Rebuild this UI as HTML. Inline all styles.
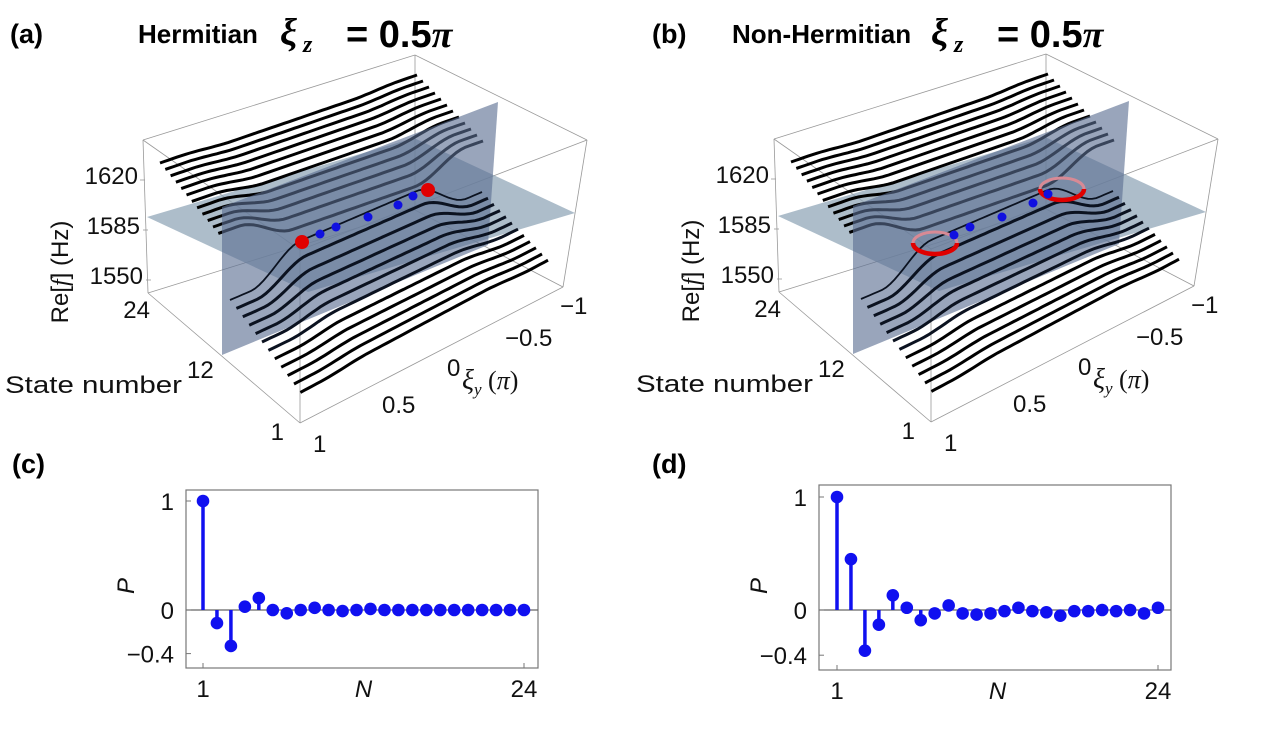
<!DOCTYPE html>
<html><head><meta charset="utf-8"><style>
html,body{margin:0;padding:0;background:#fff;}
svg{display:block;}
text{font-family:"Liberation Sans",sans-serif;}
.t{font-size:24px;fill:#111;}
.b{font-weight:bold;}
.s{font-family:"Liberation Serif",serif;font-style:italic;}
</style></head><body>
<svg id="svg" width="1269" height="730" viewBox="0 0 1269 730" xmlns="http://www.w3.org/2000/svg">
<text x="10" y="43" class="b" font-size="27">(a)</text>
<text x="138" y="43" class="b" font-size="26">Hermitian</text>
<text x="280" y="45" class="s b" font-size="38">ξ</text>
<text x="303" y="52" class="s b" font-size="24">z</text>
<text x="346" y="47" class="b" font-size="38">= 0.5<tspan font-family="Liberation Serif" font-style="italic" font-size="38">π</tspan></text>

<text x="652" y="43" class="b" font-size="27">(b)</text>
<text x="732" y="43" class="b" font-size="26">Non-Hermitian</text>
<text x="931" y="45" class="s b" font-size="38">ξ</text>
<text x="954" y="52" class="s b" font-size="24">z</text>
<text x="997" y="47" class="b" font-size="38">= 0.5<tspan font-family="Liberation Serif" font-style="italic" font-size="38">π</tspan></text>

<g id="pa"></g>
<g id="pb" transform="translate(631,-1)"></g>

<text x="12" y="473" class="b" font-size="27">(c)</text>
<text x="652" y="473" class="b" font-size="27">(d)</text>
<g id="pc"></g>
<g id="pd"></g>
</svg>
<script>
var NS="http://www.w3.org/2000/svg";
function el(p,tag,attrs,txt){var e=document.createElementNS(NS,tag);for(var k in attrs)e.setAttribute(k,attrs[k]);if(txt!==undefined)e.textContent=txt;p.appendChild(e);return e;}
function sm(x){x=Math.max(0,Math.min(1,x));return x*x*(3-2*x);}
function plateau(t){return sm((t-0.08)/0.2)*(1-sm((t-0.74)/0.2));}
function curve(S,E,A,N){var d="";for(var k=0;k<=N;k++){var t=k/N;var x=S[0]+(E[0]-S[0])*t;var y=S[1]+(E[1]-S[1])*t+A*plateau(t);d+=(k?"L":"M")+x.toFixed(1)+","+y.toFixed(1);}return d;}
function panel(g,nh){
  var box="#999";
  var L=[[143,140,415,55],[415,55,587,140],[143,140,148,293],[587,140,563,287],[148,293,300,423],[300,423,563,287],[415,55,415,210],[148,293,415,210],[415,210,563,287],[143,140,300,250],[300,250,587,140],[300,250,300,423]];
  L.forEach(function(l){el(g,"line",{x1:l[0],y1:l[1],x2:l[2],y2:l[3],stroke:box,"stroke-width":0.8});});
  [[137,180],[140,230],[143,280]].forEach(function(p){el(g,"line",{x1:p[0]+3,y1:p[1],x2:p[0]+8,y2:p[1],stroke:box,"stroke-width":0.8});});
  el(g,"polygon",{points:"147,217 414,138 575,213 308,292",fill:"#8ea3b6","fill-opacity":0.72});
  for(var j=0;j<12;j++){
    var S=[160+5.3*j,163+6.4*j],E=[417+6*j,75+6*j];
    var A=20*Math.exp(-(11-j)/3.5)+2;
    el(g,"path",{d:curve(S,E,A,60),fill:"none",stroke:"#000","stroke-width":3});
  }
  el(g,"polygon",{points:"222,207 498,102 488,245 222,355",fill:"#5a6d92","fill-opacity":0.62});
  for(var i=11;i>=0;i--){
    var S2=[230+6.4*i,300+8.4*i],E2=[482+6*i,192+6.2*i];
    var A2=-(27*Math.exp(-i/3.5)+2);
    el(g,"path",{d:curve(S2,E2,A2,60),fill:"none",stroke:i<7?"#0b1220":"#000","stroke-width":i==0?1.8:3});
  }
  if(!nh){
    el(g,"circle",{cx:302,cy:242,r:7,fill:"#e00000"});
    el(g,"circle",{cx:428,cy:190,r:7,fill:"#e00000"});
    [[320,234],[336,227],[368,217],[398,205],[413,196]].forEach(function(p){el(g,"circle",{cx:p[0],cy:p[1],r:4.5,fill:"#1010e0"});});
  } else {
    [[304,244],[431,190]].forEach(function(c){
      el(g,"path",{d:"M"+(c[0]-22)+","+c[1]+" A22,11 0 0,1 "+(c[0]+22)+","+c[1],fill:"none",stroke:"#d88a95","stroke-width":3});
      el(g,"path",{d:"M"+(c[0]-22)+","+c[1]+" A22,11 0 0,0 "+(c[0]+22)+","+c[1],fill:"none",stroke:"#e00000","stroke-width":4.5});
    });
    [[323,236],[339,228],[371,218],[402,204],[417,195]].forEach(function(p){el(g,"circle",{cx:p[0],cy:p[1],r:4.5,fill:"#1010e0"});});
  }
  var T=[["1620",138,184,"end"],["1585",140,234,"end"],["1550",143,284,"end"],["24",150,318,"end"],["12",187,378,"start"],["1",284,440,"end"],["1",313,452,"start"],["0.5",382,413,"start"],["0",447,376,"start"],["−0.5",505,346,"start"],["−1",560,314,"start"]];
  T.forEach(function(t){el(g,"text",{x:t[1],y:t[2],"class":"t","text-anchor":t[3]},t[0]);});
  el(g,"text",{x:5,y:393,"class":"t",textLength:177,lengthAdjust:"spacingAndGlyphs"},"State number");
  var r=el(g,"text",{x:0,y:0,"class":"t",transform:"translate(68,272) rotate(-90)","text-anchor":"middle"});
  r.innerHTML='Re[<tspan font-family="Liberation Serif" font-style="italic">f</tspan>] (Hz)';
  var xi=el(g,"text",{x:462,y:389,"class":"t"});
  xi.innerHTML='<tspan font-family="Liberation Serif" font-style="italic" font-size="28">ξ</tspan><tspan font-family="Liberation Serif" font-style="italic" font-size="17" dy="6">y</tspan><tspan dy="-6" font-family="Liberation Serif" font-size="26"> (</tspan><tspan font-family="Liberation Serif" font-style="italic" font-size="26">π</tspan><tspan font-family="Liberation Serif" font-size="26">)</tspan>';
}
panel(document.getElementById("pa"),false);
panel(document.getElementById("pb"),true);

function stem(g,bx0,bx1,by0,by1,y1,y0,x1,x24,vals){
  el(g,"rect",{x:bx0,y:by0,width:bx1-bx0,height:by1-by0,fill:"none",stroke:"#777","stroke-width":1.2});
  el(g,"line",{x1:bx0,y1:y0,x2:bx1,y2:y0,stroke:"#666","stroke-width":1.2});
  var sc=y0-y1;
  [[y1],[y0],[y0+0.4*sc]].forEach(function(p){el(g,"line",{x1:bx0,y1:p[0],x2:bx0+5,y2:p[0],stroke:"#777","stroke-width":1});});
  el(g,"line",{x1:x1,y1:by1,x2:x1,y2:by1-5,stroke:"#777","stroke-width":1});
  el(g,"line",{x1:x24,y1:by1,x2:x24,y2:by1-5,stroke:"#777","stroke-width":1});
  var dx=(x24-x1)/23;
  vals.forEach(function(v,k){var x=x1+k*dx,y=y0-v*sc;
    el(g,"line",{x1:x,y1:y0,x2:x,y2:y,stroke:"#1010f0","stroke-width":3.5});
    el(g,"circle",{cx:x,cy:y,r:6.3,fill:"#1010f0"});});
  el(g,"text",{x:bx0-12,y:y1+9,"class":"t","text-anchor":"end","font-size":"25"},"1");
  el(g,"text",{x:bx0-12,y:y0+9,"class":"t","text-anchor":"end","font-size":"25"},"0");
  el(g,"text",{x:bx0-12,y:y0+0.4*sc+9,"class":"t","text-anchor":"end","font-size":"25"},"−0.4");
  el(g,"text",{x:x1,y:by1+29,"class":"t","text-anchor":"middle","font-size":"25"},"1");
  el(g,"text",{x:x24,y:by1+29,"class":"t","text-anchor":"middle","font-size":"25"},"24");
  el(g,"text",{x:(x1+x24)/2,y:by1+29,"class":"t","text-anchor":"middle","font-size":"25","font-style":"italic"},"N");
  el(g,"text",{x:0,y:0,"class":"t","font-size":"24","font-style":"italic",transform:"translate("+(bx0-52)+","+(y0-24)+") rotate(-90)","text-anchor":"middle"},"P");
}
stem(document.getElementById("pc"),186,538,490,668,501,610,203,524,
 [1,-0.12,-0.33,0.03,0.11,0,-0.03,0,0.02,0,-0.01,0,0.01,0,0,0,0,0,0,0,0,0,0,0]);
stem(document.getElementById("pd"),819,1171,485,670,497,610,837,1158,
 [1,0.45,-0.36,-0.13,0.13,0.02,-0.09,-0.03,0.04,-0.03,-0.04,-0.03,-0.01,0.02,-0.01,-0.02,-0.05,-0.01,-0.01,0,-0.01,0,-0.03,0.02]);
</script>
</body></html>
